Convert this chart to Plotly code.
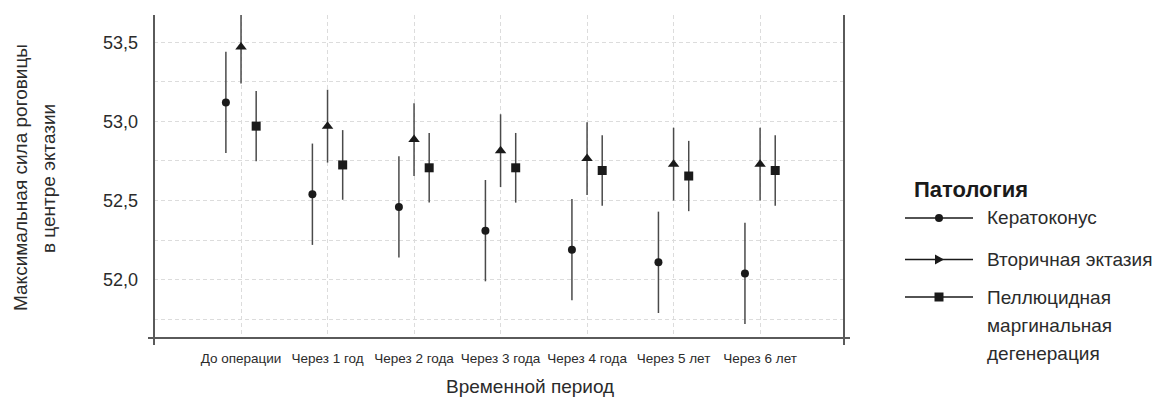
import plotly.graph_objects as go

# ---- data ----
categories = ["До операции", "Через 1 год", "Через 2 года", "Через 3 года",
              "Через 4 года", "Через 5 лет", "Через 6 лет"]
series_names = ["Кератоконус", "Вторичная эктазия",
                "Пеллюцидная маргинальная дегенерация"]
keratoconus_mean = [53.12, 52.54, 52.46, 52.31, 52.19, 52.11, 52.04]
keratoconus_err = [0.32, 0.32, 0.32, 0.32, 0.32, 0.32, 0.32]
secondary_mean = [53.47, 52.97, 52.885, 52.815, 52.765, 52.73, 52.73]
secondary_err = [0.23, 0.23, 0.23, 0.23, 0.23, 0.23, 0.23]
pmd_mean = [52.97, 52.725, 52.707, 52.707, 52.69, 52.655, 52.69]
pmd_err = [0.222, 0.22, 0.22, 0.22, 0.222, 0.222, 0.222]
y_tick_vals = [52.0, 52.5, 53.0, 53.5]
y_tick_text = ["52,0", "52,5", "53,0", "53,5"]
x_title = "Временной период"
y_title_lines = ["Максимальная сила роговицы", "в центре эктазии"]
legend_title = "Патология"
legend_lines = [["Кератоконус"], ["Вторичная эктазия"],
                ["Пеллюцидная", "маргинальная", "дегенерация"]]

# ---- layout geometry ----
W, H = 1172, 402
L, R, T, B = 154, 328, 15, 64
PW, PH = W - L - R, H - T - B


def px_x(p):
    return (p - L) / PW


def px_y(p):
    return (T + PH - p) / PH


MARK = "#1a1a1a"
BAR = "#4a4a4a"
AXIS = "#5a5a5a"
GRID = "#dcdcdc"
TXT = "#2b2b2b"

offsets = [-0.175, 0.0, 0.175]
means = [keratoconus_mean, secondary_mean, pmd_mean]
errs = [keratoconus_err, secondary_err, pmd_err]
symbols = ["circle", "triangle-up", "square"]
sizes = [8, 10, 9]

fig = go.Figure()
idx = list(range(len(categories)))
for k in range(3):
    fig.add_trace(go.Scatter(
        x=[i + offsets[k] for i in idx],
        y=means[k],
        mode="markers",
        name=series_names[k],
        marker=dict(symbol=symbols[k], size=sizes[k], color=MARK, line=dict(width=0)),
        error_y=dict(type="data", array=errs[k], visible=True, width=0,
                     thickness=1.5, color=BAR),
        cliponaxis=False,
        showlegend=False,
    ))

shapes = []
# axis lines with small overhangs at the corners
shapes.append(dict(type="line", xref="paper", yref="paper",
                   x0=px_x(148), x1=px_x(850), y0=0, y1=0,
                   line=dict(color=AXIS, width=2)))
for xp in (0, 1):
    shapes.append(dict(type="line", xref="paper", yref="paper",
                       x0=xp, x1=xp, y0=px_y(345), y1=1,
                       line=dict(color=AXIS, width=2)))

annotations = []
# x title
annotations.append(dict(text=x_title, xref="paper", yref="paper",
                        x=px_x(530), y=px_y(386), xanchor="center", yanchor="middle",
                        showarrow=False, font=dict(size=19, color=TXT)))
# y title (two lines)
for xpix, line in zip([20, 48], y_title_lines):
    annotations.append(dict(text=line, xref="paper", yref="paper",
                            x=px_x(xpix), y=px_y(178), xanchor="center", yanchor="middle",
                            textangle=-90, showarrow=False,
                            font=dict(size=19, color=TXT)))

# custom legend
annotations.append(dict(text="<b>" + legend_title + "</b>", xref="paper", yref="paper",
                        x=px_x(912), y=px_y(189), xanchor="left", yanchor="middle",
                        showarrow=False, font=dict(size=22, color=MARK)))
item_y = [218, 259.5, 297]
line_gap = 28.5
for k, yy in enumerate(item_y):
    shapes.append(dict(type="line", xref="paper", yref="paper",
                       x0=px_x(905), x1=px_x(973), y0=px_y(yy), y1=px_y(yy),
                       line=dict(color=MARK, width=1.3)))
    common = dict(xref="paper", yref="paper", xsizemode="pixel", ysizemode="pixel",
                  xanchor=px_x(939), yanchor=px_y(yy),
                  fillcolor=MARK, line=dict(width=0))
    if k == 0:
        shapes.append(dict(type="circle", x0=-4, x1=4, y0=-4, y1=4, **common))
    elif k == 1:
        shapes.append(dict(type="path", path="M-4,-5 L5,0 L-4,5 Z", **common))
    else:
        shapes.append(dict(type="rect", x0=-4.5, x1=4.5, y0=-4.5, y1=4.5, **common))
    for j, txt in enumerate(legend_lines[k]):
        annotations.append(dict(text=txt, xref="paper", yref="paper",
                                x=px_x(985), y=px_y(yy + j * line_gap),
                                xanchor="left", yanchor="middle", showarrow=False,
                                font=dict(size=19, color=TXT)))

fig.update_layout(
    width=W, height=H,
    margin=dict(l=L, r=R, t=T, b=B, autoexpand=False),
    paper_bgcolor="white", plot_bgcolor="white",
    font=dict(family="Liberation Sans, Arial, sans-serif", color=TXT),
    showlegend=False,
    shapes=shapes,
    annotations=annotations,
    xaxis=dict(
        range=[-1.006, 6.97],
        tickvals=idx, ticktext=categories,
        tickfont=dict(size=13.5, color=TXT),
        tickangle=0, automargin=False,
        ticks="", ticklabelstandoff=10,
        showgrid=True, gridcolor=GRID, griddash="4px,3px", gridwidth=1,
        zeroline=False, showline=False,
    ),
    yaxis=dict(
        range=[51.632, 53.672],
        tickvals=y_tick_vals, ticktext=y_tick_text,
        tickfont=dict(size=18, color=TXT),
        ticks="", ticklabelstandoff=15, automargin=False,
        showgrid=True, gridcolor=GRID, griddash="4px,3px", gridwidth=1,
        minor=dict(tick0=51.75, dtick=0.5, showgrid=True, gridcolor=GRID,
                   griddash="4px,3px", gridwidth=1),
        zeroline=False, showline=False,
    ),
)

fig.write_html("out.html",
               config={"displayModeBar": False},
               post_script="document.body.style.margin='0';document.body.style.padding='0';")
